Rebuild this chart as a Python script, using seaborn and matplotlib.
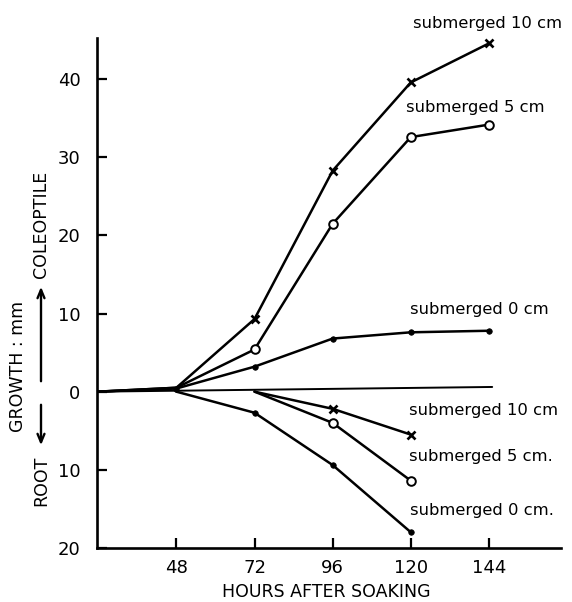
import matplotlib
matplotlib.use('Agg')
import matplotlib.pyplot as plt
import seaborn as sns

# hours after soaking
hours_col = [24, 48, 72, 96, 120, 144]
hours_root_sub = [72, 96, 120]
hours_root_0 = [48, 72, 96, 120]

# coleoptile growth (mm), plotted upward
col_10 = [0, 0.5, 9.3, 28.3, 39.6, 44.6]
col_5 = [0, 0.5, 5.4, 21.5, 32.6, 34.2]
col_0 = [0, 0.4, 3.2, 6.8, 7.6, 7.8]

# root growth (mm), plotted downward
root_10 = [0, 2.2, 5.5]
root_5 = [0, 4.0, 11.4]
root_0 = [0, 2.7, 9.4, 18.0]

# unlabelled base line
base_x = [24, 145]
base_y = [0, 0.6]

xticks = [48, 72, 96, 120, 144]
yticks = [-20, -10, 0, 10, 20, 30, 40]
yticklabels = ['20', '10', '0', '10', '20', '30', '40']

sns.set_style('ticks')
plt.rcParams['font.family'] = ['DejaVu Sans']
plt.rcParams['text.color'] = 'black'
plt.rcParams['xtick.color'] = 'black'
plt.rcParams['ytick.color'] = 'black'

fig = plt.figure(figsize=(5.72, 6.02), dpi=100)
ax = fig.add_axes([0.17, 0.09, 0.81, 0.847])

lw = 1.8
xm = dict(marker='x', markersize=6, mew=1.9, mec='black')
om = dict(marker='o', markersize=6.2, mfc='white', mec='black', mew=1.4)
dm = dict(marker='o', markersize=4, mfc='black', mec='black', mew=0.5)

sns.lineplot(x=base_x, y=base_y, ax=ax, color='black', lw=1.4, sort=False)
sns.lineplot(x=hours_col, y=col_10, ax=ax, color='black', lw=lw, sort=False,
             markevery=slice(2, None), **xm)
sns.lineplot(x=hours_col, y=col_5, ax=ax, color='black', lw=lw, sort=False,
             markevery=slice(2, None), **om)
sns.lineplot(x=hours_col, y=col_0, ax=ax, color='black', lw=lw, sort=False,
             markevery=slice(1, None), **dm)

sns.lineplot(x=hours_root_sub, y=[-v for v in root_10], ax=ax, color='black',
             lw=lw, sort=False, markevery=slice(1, None), **xm)
sns.lineplot(x=hours_root_sub, y=[-v for v in root_5], ax=ax, color='black',
             lw=lw, sort=False, markevery=slice(1, None), **om)
sns.lineplot(x=hours_root_0, y=[-v for v in root_0], ax=ax, color='black',
             lw=lw, sort=False, markevery=slice(1, None), **dm)

ax.set_xlim(23.7, 166)
ax.set_ylim(-20, 45.3)
ax.set_xticks(xticks)
ax.set_xticklabels([str(h) for h in xticks])
ax.set_yticks(yticks)
ax.set_yticklabels(yticklabels)
ax.tick_params(direction='in', length=7, width=1.6, labelsize=13,
               color='black', labelcolor='black')
ax.tick_params(axis='y', pad=12)
ax.tick_params(axis='x', pad=8)
for s in ['top', 'right']:
    ax.spines[s].set_visible(False)
for s in ['left', 'bottom']:
    ax.spines[s].set_linewidth(1.9)
    ax.spines[s].set_color('black')

fs = 11.8
labels = [
    (120.6, 47.1, 'submerged 10 cm'),
    (118.6, 36.4, 'submerged 5 cm'),
    (119.7, 10.5, 'submerged 0 cm'),
    (119.4, -2.4, 'submerged 10 cm'),
    (119.4, -8.3, 'submerged 5 cm.'),
    (119.7, -15.2, 'submerged 0 cm.'),
]
for x, y, t in labels:
    ax.text(x, y, t, fontsize=fs, ha='left', va='center', clip_on=False,
            color='black')

fig.text(326 / 572, 1 - 592 / 602, 'HOURS AFTER SOAKING', ha='center',
         va='center', fontsize=12.5)
fig.text(18 / 572, 1 - 366 / 602, 'GROWTH : mm', rotation=90, ha='center',
         va='center', fontsize=12.5)
fig.text(41 / 572, 1 - 456 / 602, 'ROOT', rotation=90, ha='center',
         va='top', fontsize=12.5)
fig.text(41 / 572, 1 - 278 / 602, 'COLEOPTILE', rotation=90, ha='center',
         va='bottom', fontsize=12.5)
arrow = dict(arrowstyle='->,head_length=0.6,head_width=0.25', lw=1.7,
             color='black')
ax.annotate('', xy=(41 / 572, 1 - 448 / 602), xytext=(41 / 572, 1 - 402 / 602),
            xycoords='figure fraction', textcoords='figure fraction',
            arrowprops=arrow)
ax.annotate('', xy=(41 / 572, 1 - 284 / 602), xytext=(41 / 572, 1 - 384 / 602),
            xycoords='figure fraction', textcoords='figure fraction',
            arrowprops=arrow)

fig.savefig('out.png', dpi=100)
